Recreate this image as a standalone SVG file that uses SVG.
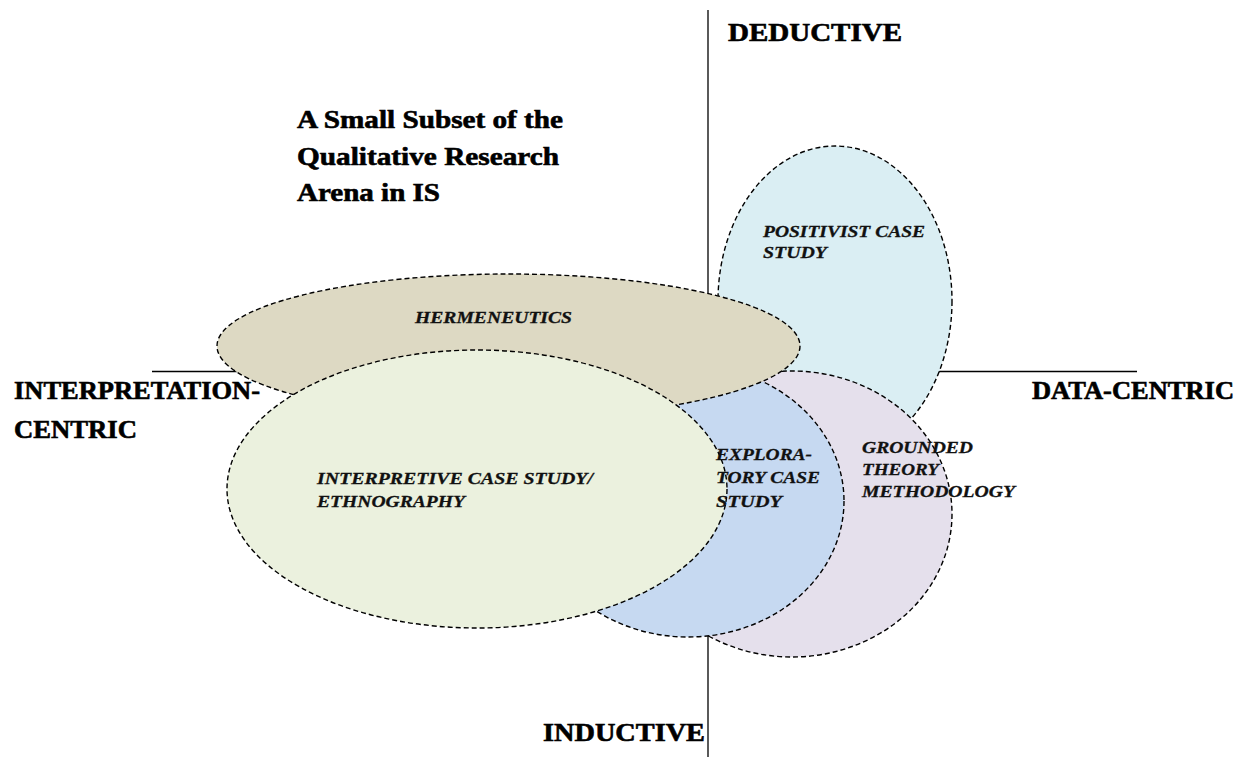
<svg xmlns="http://www.w3.org/2000/svg" width="1242" height="757" viewBox="0 0 1242 757">
<style>
.bg{fill:#ffffff}
.axis{stroke:#000;stroke-width:1.3;fill:none}
.set{stroke:#000;stroke-width:1.4;stroke-dasharray:5 3}
.ax{font-family:'Liberation Serif','Times New Roman',serif;font-weight:bold;font-size:25px;fill:#000;stroke:#000;stroke-width:0.6}
.lbl{font-family:'Liberation Serif','Times New Roman',serif;font-weight:bold;font-style:italic;font-size:17.5px;fill:#111;stroke:#111;stroke-width:0.3}
</style>
<rect class="bg" x="0" y="0" width="1242" height="757"/>
<g id="connectors">
<line class="axis" x1="708" y1="10" x2="708" y2="757"/>
<line class="axis" x1="152" y1="371.5" x2="1137" y2="371.5"/>
</g>
<g id="node-positivist"><ellipse class="set" cx="835" cy="301" rx="117" ry="155" fill="#DAEEF3"/></g>
<g id="node-grounded"><ellipse class="set" cx="792" cy="514" rx="160" ry="143" fill="#E5E0EC"/></g>
<g id="node-exploratory"><ellipse class="set" cx="688" cy="501" rx="156" ry="136" fill="#C6D9F1"/></g>
<g id="node-hermeneutics"><ellipse class="set" cx="508.5" cy="346" rx="291.5" ry="72" fill="#DDD9C3"/></g>
<g id="node-interpretive"><ellipse class="set" cx="477" cy="489" rx="250" ry="139" fill="#EBF1DE"/></g>
<g id="node-labels">
<g id="label-positivist">
<text class="lbl" x="763" y="237" textLength="162" lengthAdjust="spacingAndGlyphs">POSITIVIST CASE</text>
<text class="lbl" x="763" y="258" textLength="64" lengthAdjust="spacingAndGlyphs">STUDY</text>
</g>
<g id="label-grounded">
<text class="lbl" x="862" y="453" textLength="111" lengthAdjust="spacingAndGlyphs">GROUNDED</text>
<text class="lbl" x="862" y="475" textLength="77" lengthAdjust="spacingAndGlyphs">THEORY</text>
<text class="lbl" x="862" y="497" textLength="153" lengthAdjust="spacingAndGlyphs">METHODOLOGY</text>
</g>
<g id="label-exploratory">
<text class="lbl" x="716" y="460" textLength="96" lengthAdjust="spacingAndGlyphs">EXPLORA-</text>
<text class="lbl" x="716" y="483" textLength="104" lengthAdjust="spacingAndGlyphs">TORY CASE</text>
<text class="lbl" x="716" y="507" textLength="66" lengthAdjust="spacingAndGlyphs">STUDY</text>
</g>
<g id="label-hermeneutics">
<text class="lbl" x="415" y="323" textLength="157" lengthAdjust="spacingAndGlyphs">HERMENEUTICS</text>
</g>
<g id="label-interpretive">
<text class="lbl" x="317" y="484" textLength="276" lengthAdjust="spacingAndGlyphs">INTERPRETIVE CASE STUDY/</text>
<text class="lbl" x="317" y="507" textLength="148" lengthAdjust="spacingAndGlyphs">ETHNOGRAPHY</text>
</g>
</g>
<g id="axis-labels">
<text class="ax" x="728" y="41" textLength="174" lengthAdjust="spacingAndGlyphs">DEDUCTIVE</text>
<text class="ax" x="1032" y="399" textLength="202" lengthAdjust="spacingAndGlyphs">DATA-CENTRIC</text>
<text class="ax" x="14" y="399" textLength="246" lengthAdjust="spacingAndGlyphs">INTERPRETATION-</text>
<text class="ax" x="14" y="438" textLength="123" lengthAdjust="spacingAndGlyphs">CENTRIC</text>
<text class="ax" x="543" y="741" textLength="162" lengthAdjust="spacingAndGlyphs">INDUCTIVE</text>
</g>
<g id="title">
<text class="ax" x="297" y="128" textLength="266" lengthAdjust="spacingAndGlyphs">A Small Subset of the</text>
<text class="ax" x="297" y="165" textLength="262" lengthAdjust="spacingAndGlyphs">Qualitative Research</text>
<text class="ax" x="297" y="201" textLength="143" lengthAdjust="spacingAndGlyphs">Arena in IS</text>
</g>
</svg>
